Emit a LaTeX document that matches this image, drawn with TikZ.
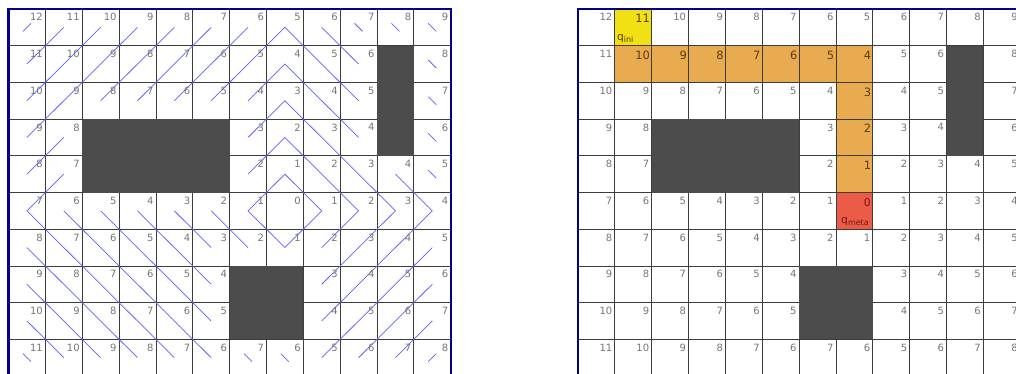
\documentclass[tikz,border=0pt]{standalone}
\usepackage{fontspec}
\setmainfont{DejaVu Sans}
\definecolor{navyb}{RGB}{0,0,140}
\definecolor{gridc}{RGB}{60,60,60}
\definecolor{obstc}{RGB}{76,76,76}
\definecolor{numgray}{RGB}{118,118,118}
\definecolor{wavec}{RGB}{98,98,250}
\definecolor{qyellow}{RGB}{240,224,20}
\definecolor{qorange}{RGB}{232,171,79}
\definecolor{qred}{RGB}{236,90,72}
\definecolor{txtolive}{RGB}{80,68,0}
\definecolor{txtbrown}{RGB}{92,60,16}
\definecolor{txtred}{RGB}{120,22,12}
\tikzset{
  gridline/.style={draw=gridc, line width=0.6pt},
  borderline/.style={draw=navyb, line width=1.7pt},
  obst/.style={fill=obstc},
  wave/.style={draw=wavec, line width=0.55pt},
  nn/.style={anchor=north east, inner sep=0pt, xshift=-1.7pt, yshift=-3.2pt, font=\fontsize{7.5}{9}\selectfont, text=numgray},
  nh/.style={anchor=north east, inner sep=0pt, xshift=-1.1pt, yshift=-3.7pt, font=\fontsize{8.6}{10}\selectfont, text=txtbrown},
  ny/.style={nh, text=txtolive},
  nr/.style={anchor=north east, inner sep=0pt, xshift=-1.5pt, yshift=-4.1pt, font=\fontsize{8}{10}\selectfont, text=txtred},
  qlab/.style={anchor=south west, inner sep=0pt, font=\fontsize{8}{9}\selectfont},
}
\begin{document}
\begin{tikzpicture}[x=0.75pt,y=-0.75pt]
\useasboundingbox (0,0) rectangle (1016,374);
\clip (0,0) rectangle (1016,374);
\fill[white] (0,0) rectangle (1016,374);
\def\cw{36.85}\def\ch{36.7}
% cell centres
\foreach \g/\xo in {L/8.5,R/578}{
  \foreach \r in {1,...,10}{
    \foreach \c in {1,...,12}{
      \coordinate (\g\r-\c) at ({\xo+(\c-0.5)*\cw},{9+(\r-0.5)*\ch});
    }
  }
}
% highlighted path cells (right grid)
\fill[qyellow] ({578+\cw},9) rectangle ({578+2*\cw},{9+\ch});
\fill[qorange] ({578+\cw},{9+\ch}) rectangle ({578+8*\cw},{9+2*\ch});
\fill[qorange] ({578+7*\cw},{9+2*\ch}) rectangle ({578+8*\cw},{9+5*\ch});
\fill[qred] ({578+7*\cw},{9+5*\ch}) rectangle ({578+8*\cw},{9+6*\ch});
% grid lines and obstacles
\foreach \xo in {8.5,578}{
  \foreach \k in {1,...,11} \draw[gridline] ({\xo+\k*\cw},9) -- ({\xo+\k*\cw},380);
  \foreach \k in {1,...,10} \draw[gridline] (\xo,{9+\k*\ch}) -- ({\xo+12*\cw},{9+\k*\ch});
  \fill[obst] ({\xo+2*\cw},{9+3*\ch}) rectangle ({\xo+6*\cw},{9+5*\ch});
  \fill[obst] ({\xo+10*\cw},{9+\ch}) rectangle ({\xo+11*\cw},{9+4*\ch});
  \fill[obst] ({\xo+6*\cw},{9+7*\ch}) rectangle ({\xo+8*\cw},{9+9*\ch});
}
% wavefronts (left grid)
\draw[wave] (L2-1) -- (L1-2);
\draw[wave] (L3-1) -- (L1-3);
\draw[wave] (L9-1) -- (L10-2);
\draw[wave] (L4-1) -- (L1-4);
\draw[wave] (L8-1) -- (L10-3);
\draw[wave] (L5-1) -- (L4-2);
\draw[wave] (L3-3) -- (L1-5);
\draw[wave] (L7-1) -- (L10-4);
\draw[wave] (L3-4) -- (L1-6);
\draw[wave] (L5-2) -- (L6-1) -- (L10-5);
\draw[wave] (L9-12) -- (L10-11);
\draw[wave] (L3-5) -- (L1-7);
\draw[wave] (L6-2) -- (L10-6);
\draw[wave] (L1-9) -- (L2-10);
\draw[wave] (L8-12) -- (L10-10);
\draw[wave] (L3-6) -- (L1-8) -- (L3-10);
\draw[wave] (L6-3) -- (L9-6);
\draw[wave] (L7-12) -- (L10-9);
\draw[wave] (L3-7) -- (L2-8) -- (L4-10);
\draw[wave] (L6-4) -- (L8-6);
\draw[wave] (L5-11) -- (L6-12) -- (L9-9);
\draw[wave] (L4-7) -- (L3-8) -- (L6-11) -- (L8-9);
\draw[wave] (L6-5) -- (L7-6);
\draw[wave] (L5-7) -- (L4-8) -- (L6-10) -- (L7-9);
\draw[wave] (L6-6) -- (L7-7);
\draw[wave] (L5-8) -- (L6-7) -- (L7-8) -- (L6-9) -- cycle;
\foreach \p in {L1-1,L10-12} \draw[wave] (\p) +(-4,4) -- +(4,-4);
\foreach \p in {L1-10,L1-11,L1-12,L2-12,L3-12,L4-12,L5-12,L10-1,L10-7,L10-8} \draw[wave] (\p) +(-4,-4) -- +(4,4);
% distance numbers
\foreach \g/\xo/\mode in {L/8.5/0,R/578/1}{
  \foreach \rowvals [count=\r] in {
    {12/nn,11/ny,10/nn,9/nn,8/nn,7/nn,6/nn,5/nn,6/nn,7/nn,8/nn,9/nn},
    {11/nn,10/nh,9/nh,8/nh,7/nh,6/nh,5/nh,4/nh,5/nn,6/nn,x/nn,8/nn},
    {10/nn,9/nn,8/nn,7/nn,6/nn,5/nn,4/nn,3/nh,4/nn,5/nn,x/nn,7/nn},
    {9/nn,8/nn,x/nn,x/nn,x/nn,x/nn,3/nn,2/nh,3/nn,4/nn,x/nn,6/nn},
    {8/nn,7/nn,x/nn,x/nn,x/nn,x/nn,2/nn,1/nh,2/nn,3/nn,4/nn,5/nn},
    {7/nn,6/nn,5/nn,4/nn,3/nn,2/nn,1/nn,0/nr,1/nn,2/nn,3/nn,4/nn},
    {8/nn,7/nn,6/nn,5/nn,4/nn,3/nn,2/nn,1/nn,2/nn,3/nn,4/nn,5/nn},
    {9/nn,8/nn,7/nn,6/nn,5/nn,4/nn,x/nn,x/nn,3/nn,4/nn,5/nn,6/nn},
    {10/nn,9/nn,8/nn,7/nn,6/nn,5/nn,x/nn,x/nn,4/nn,5/nn,6/nn,7/nn},
    {11/nn,10/nn,9/nn,8/nn,7/nn,6/nn,7/nn,6/nn,5/nn,6/nn,7/nn,8/nn}}{
    \foreach \v/\s [count=\c] in \rowvals {
      \if x\v\else
        \ifnum\mode=0
          \node[nn] (N\g\r-\c) at ({\xo+\c*\cw},{9+(\r-1)*\ch}) {\v};
        \else
          \node[\s] (N\g\r-\c) at ({\xo+\c*\cw},{9+(\r-1)*\ch}) {\v};
        \fi
      \fi
    }
  }
}
\node[qlab, text=txtolive] (qini) at ({578+\cw+2},{9+\ch-3}) {q\textsubscript{ini}};
\node[qlab, text=txtred] (qmeta) at ({578+7*\cw+5},{9+6*\ch-3.5}) {q\textsubscript{meta}};
% borders
\foreach \xo in {8.5,578}{
  \draw[borderline] (\xo,380) -- (\xo,9) -- ({\xo+12*\cw},9) -- ({\xo+12*\cw},380);
}
\end{tikzpicture}
\end{document}
